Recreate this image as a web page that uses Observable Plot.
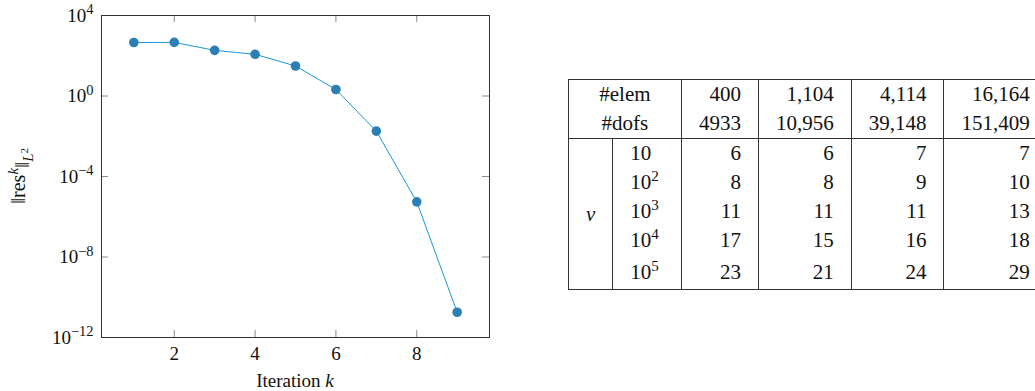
<!DOCTYPE html>
<html>
<head>
<meta charset="utf-8">
<script src="https://cdn.jsdelivr.net/npm/d3@7"></script>
<script src="https://cdn.jsdelivr.net/npm/@observablehq/plot@0.6"></script>
<style>
  html, body { margin: 0; padding: 0; background: white; }
  #wrap { position: relative; width: 1035px; height: 391px; overflow: hidden; background: white; }
  #chart { position: absolute; left: 0; top: 0; }
  table.res {
    position: absolute; left: 568px; top: 79px;
    border-collapse: collapse;
    font-family: "Liberation Serif", serif;
    font-size: 21px; color: #111;
    border-top: 1px solid #333; border-bottom: 1px solid #333; border-left: 1px solid #333;
  }
  table.res td { font-family: "Liberation Serif", serif; padding: 0 17px; height: 29px; line-height: 29px; white-space: nowrap; text-align: right; vertical-align: middle; }
  table.res tr.body td { height: 29px; line-height: 29px; }
  table.res tr.last td { height: 34px; }
  table.res td.br { border-right: 1px solid #333; }
  table.res tr.sep td { border-bottom: 1px solid #333; }
  table.res td.c { text-align: center; }
  table.res td.l { text-align: left; padding-right: 22px; }
  table.res sup { font-size: 0.72em; line-height: 0; vertical-align: 0.55em; }
</style>
</head>
<body>
<div id="wrap">
  <div id="chart"></div>
</div>
<script>
// ---- chart data ----
const iterations = [1, 2, 3, 4, 5, 6, 7, 8, 9];
const residuals = [455, 460, 186, 118, 31, 2.1, 0.018, 5.5e-6, 1.8e-11];
const xTicks = [2, 4, 6, 8];
const yTicks = [1e-12, 1e-8, 1e-4, 1, 1e4];

// ---- table data ----
const elemCounts = ["400", "1,104", "4,114", "16,164"];
const dofCounts = ["4933", "10,956", "39,148", "151,409"];
const nuExponents = [1, 2, 3, 4, 5];
const iterCounts = [
  [6, 6, 7, 7],
  [8, 8, 9, 10],
  [11, 11, 11, 13],
  [17, 15, 16, 18],
  [23, 21, 24, 29]
];

const data = iterations.map((k, i) => ({k, r: residuals[i]}));

const W = 520, H = 391, mL = 101, mR = 31, mT = 15, mB = 54;
const fw = W - mL - mR, fh = H - mT - mB, tl = 7;
const tickColor = "#8a8a8a";
const serif = "'Liberation Serif', serif";

const chart = Plot.plot({
  width: W, height: H,
  marginLeft: mL, marginRight: mR, marginTop: mT, marginBottom: mB,
  style: {fontFamily: serif, fontSize: "19px", color: "#111", background: "white"},
  x: {domain: [0.2, 9.8]},
  y: {type: "log", domain: [1e-12, 1e4]},
  marks: [
    Plot.tickX(xTicks, {x: d => d, insetTop: fh - tl, stroke: tickColor}),
    Plot.tickX(xTicks, {x: d => d, insetBottom: fh - tl, stroke: tickColor}),
    Plot.tickY(yTicks, {y: d => d, insetRight: fw - tl, stroke: tickColor}),
    Plot.tickY(yTicks, {y: d => d, insetLeft: fw - tl, stroke: tickColor}),
    Plot.axisX({ticks: xTicks, tickSize: 0, tickPadding: 9, label: null, tickFormat: d => String(d)}),
    Plot.axisY({ticks: yTicks, tickSize: 0, tickPadding: 8, label: null,
      tickFormat: d => { const e = Math.round(Math.log10(d)); return e < 0 ? "\u2212" + (-e) : String(e); }}),
    Plot.frame({stroke: "#333", strokeWidth: 1}),
    Plot.line(data, {x: "k", y: "r", stroke: "#1b98d3", strokeWidth: 1}),
    Plot.dot(data, {x: "k", y: "r", r: 4.8, fill: "#2c7fb5"})
  ]
});
document.getElementById("chart").appendChild(chart);

const svg = d3.select(chart);
// turn y tick labels into 10^e with a real superscript
svg.selectAll('g[aria-label="y-axis tick label"] text').each(function() {
  const t = d3.select(this);
  const e = t.text();
  t.text("");
  t.append("tspan").text("10");
  t.append("tspan").attr("dy", "-0.5em").attr("font-size", "0.76em").text(e);
});

// axis titles
const yl = svg.append("text")
  .attr("transform", `translate(25,${mT + fh / 2}) rotate(-90)`)
  .attr("text-anchor", "middle")
  .attr("font-family", serif)
  .attr("font-size", "20px").attr("fill", "#111");
yl.append("tspan").attr("font-size", "22px").text("\u2016");
yl.append("tspan").text("res");
yl.append("tspan").attr("dy", "-0.5em").attr("font-size", "0.75em").attr("font-style", "italic").text("k");
yl.append("tspan").attr("dy", "0.5em").attr("font-size", "22px").text("\u2016");
yl.append("tspan").attr("dy", "0.3em").attr("font-size", "0.75em").attr("font-style", "italic").text("L");
yl.append("tspan").attr("dy", "-0.5em").attr("font-size", "0.55em").text("2");

const xl = svg.append("text")
  .attr("x", mL + fw / 2).attr("y", 387)
  .attr("text-anchor", "middle")
  .attr("font-family", serif)
  .attr("font-size", "19px").attr("fill", "#111");
xl.append("tspan").text("Iteration ");
xl.append("tspan").attr("font-style", "italic").text("k");

// ---- table ----
const tbl = document.createElement("table");
tbl.className = "res";
let html = "";
html += `<tr><td colspan="2" class="c br">#elem</td>` +
  elemCounts.map((v, i) => `<td class="${i < elemCounts.length - 1 ? "br" : ""}">${v}</td>`).join("") + `</tr>`;
html += `<tr class="sep"><td colspan="2" class="c br">#dofs</td>` +
  dofCounts.map((v, i) => `<td class="${i < dofCounts.length - 1 ? "br" : ""}">${v}</td>`).join("") + `</tr>`;
nuExponents.forEach((e, r) => {
  html += `<tr class="body${r === nuExponents.length - 1 ? " last" : ""}">`;
  if (r === 0) html += `<td rowspan="${nuExponents.length}" class="c br"><i>\u03BD</i></td>`;
  html += `<td class="l br">10${e === 1 ? "" : "<sup>" + e + "</sup>"}</td>`;
  html += iterCounts[r].map((v, i) => `<td class="${i < iterCounts[r].length - 1 ? "br" : ""}">${v}</td>`).join("");
  html += `</tr>`;
});
tbl.innerHTML = html;
document.getElementById("wrap").appendChild(tbl);
</script>
</body>
</html>
